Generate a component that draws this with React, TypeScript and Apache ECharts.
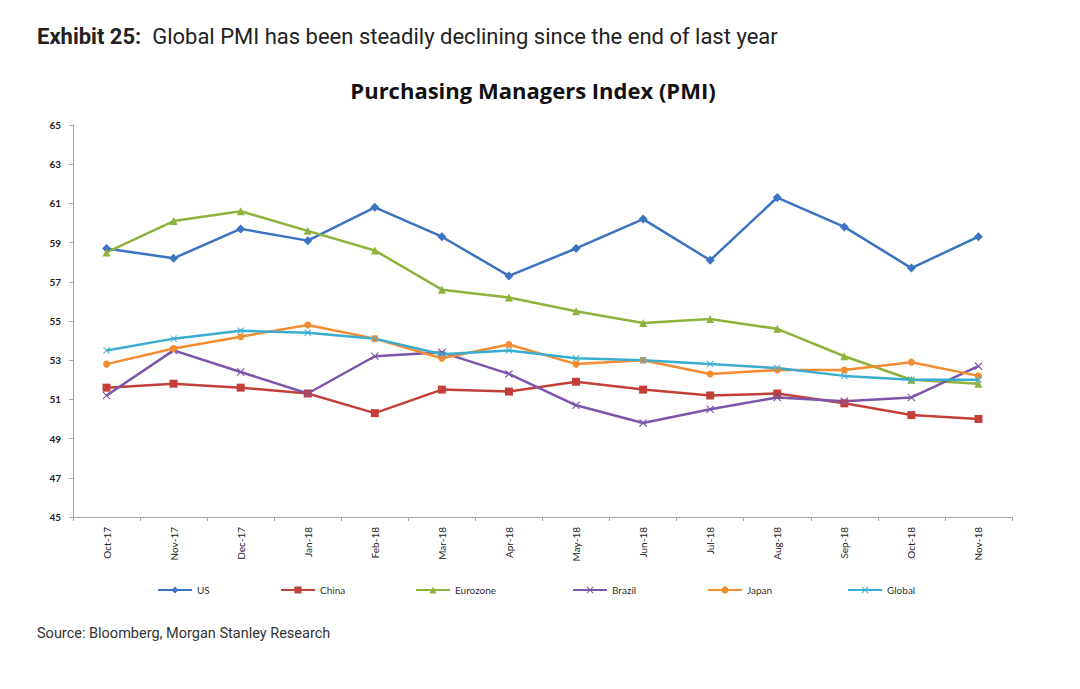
import React, { useEffect, useRef } from "react";
import * as echarts from "echarts";

const months = ["Oct-17", "Nov-17", "Dec-17", "Jan-18", "Feb-18", "Mar-18", "Apr-18", "May-18", "Jun-18", "Jul-18", "Aug-18", "Sep-18", "Oct-18", "Nov-18"];
const us = [58.7, 58.2, 59.7, 59.1, 60.8, 59.3, 57.3, 58.7, 60.2, 58.1, 61.3, 59.8, 57.7, 59.3];
const china = [51.6, 51.8, 51.6, 51.3, 50.3, 51.5, 51.4, 51.9, 51.5, 51.2, 51.3, 50.8, 50.2, 50.0];
const eurozone = [58.5, 60.1, 60.6, 59.6, 58.6, 56.6, 56.2, 55.5, 54.9, 55.1, 54.6, 53.2, 52.0, 51.8];
const brazil = [51.2, 53.5, 52.4, 51.3, 53.2, 53.4, 52.3, 50.7, 49.8, 50.5, 51.1, 50.9, 51.1, 52.7];
const japan = [52.8, 53.6, 54.2, 54.8, 54.1, 53.1, 53.8, 52.8, 53.0, 52.3, 52.5, 52.5, 52.9, 52.2];
const global = [53.5, 54.1, 54.5, 54.4, 54.1, 53.3, 53.5, 53.1, 53.0, 52.8, 52.6, 52.2, 52.0, 52.0];
const yTicks = { min: 45, max: 65, interval: 2 };

const xMark = "path://M0,1L1,0L5,4L9,0L10,1L6,5L10,9L9,10L5,6L1,10L0,9L4,5Z";
const seriesDefs = [
  { name: "US", data: us, color: "#3B73C2", symbol: "diamond", size: 9 },
  { name: "China", data: china, color: "#C3403A", symbol: "rect", size: 8 },
  { name: "Eurozone", data: eurozone, color: "#8DB33C", symbol: "triangle", size: 8 },
  { name: "Brazil", data: brazil, color: "#7B55A8", symbol: xMark, size: 8 },
  { name: "Japan", data: japan, color: "#F58B2F", symbol: "circle", size: 7 },
  { name: "Global", data: global, color: "#39ADD0", symbol: xMark, size: 7 },
];
const legendLefts = [157, 280, 415, 572, 707, 847];

export default function App() {
  const ref = useRef<HTMLDivElement>(null);
  useEffect(() => {
    const chart = echarts.init(ref.current!, null, { renderer: "svg" });
    const axisColor = "#A6A6A6";
    chart.setOption({
      animation: false,
      backgroundColor: "#ffffff",
      title: [
        {
          text: "{b|Exhibit 25:}{r|  Global PMI has been steadily declining since the end of last year}",
          left: 37,
          top: 25,
          padding: 0,
          textStyle: {
            rich: {
              b: { fontFamily: "Roboto", fontWeight: "bold", fontSize: 22, color: "#222" },
              r: { fontFamily: "Roboto", fontWeight: "normal", fontSize: 22, color: "#222" },
            },
          },
        },
        {
          text: "Purchasing Managers Index (PMI)",
          left: 533,
          textAlign: "center",
          top: 79,
          padding: 0,
          textStyle: { fontFamily: "Open Sans", fontWeight: "bold", fontSize: 22, color: "#111" },
        },
        {
          text: "Source: Bloomberg, Morgan Stanley Research",
          left: 37,
          top: 626,
          padding: 0,
          textStyle: { fontFamily: "Roboto", fontWeight: "normal", fontSize: 14.5, color: "#333" },
        },
      ],
      legend: seriesDefs.map((s, i) => ({
        data: [s.name],
        left: legendLefts[i],
        top: 585,
        padding: 0,
        itemWidth: 34,
        itemHeight: 9,
        textStyle: { fontFamily: "Lato", fontSize: 10, color: "#333" },
        itemGap: 4,
      })),
      grid: { left: 73, right: 68, top: 125, bottom: 172, containLabel: false },
      xAxis: {
        type: "category",
        data: months,
        boundaryGap: true,
        axisLine: { lineStyle: { color: axisColor, width: 1 } },
        axisTick: { show: true, length: 4, lineStyle: { color: axisColor } },
        axisLabel: { rotate: 90, fontFamily: "Lato", fontSize: 10, color: "#222", margin: 10, interval: 0 },
        splitLine: { show: false },
      },
      yAxis: {
        type: "value",
        min: yTicks.min,
        max: yTicks.max,
        interval: yTicks.interval,
        axisLine: { show: true, lineStyle: { color: axisColor, width: 1 } },
        axisTick: { show: true, length: 4, lineStyle: { color: axisColor } },
        axisLabel: { fontFamily: "Lato", fontSize: 10, fontWeight: "bold", color: "#222", margin: 12 },
        splitLine: { show: false },
      },
      series: seriesDefs.map((s) => ({
        name: s.name,
        type: "line",
        data: s.data,
        symbol: s.symbol,
        symbolSize: s.size,
        showSymbol: true,
        lineStyle: { color: s.color, width: 2.5 },
        itemStyle: { color: s.color },
      })),
    });
    return () => chart.dispose();
  }, []);
  return <div ref={ref} style={{ position: "fixed", left: 0, top: 0, width: 1080, height: 689, background: "#fff" }} />;
}
